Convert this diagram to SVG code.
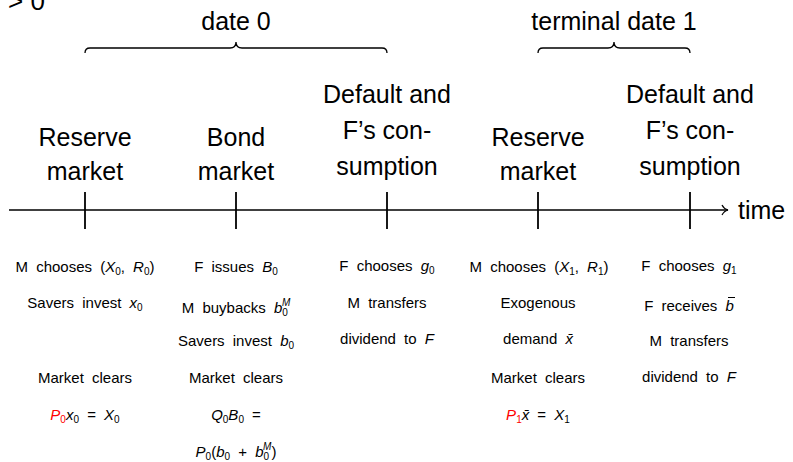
<svg xmlns="http://www.w3.org/2000/svg" width="793" height="462" viewBox="0 0 793 462">
<defs>
<style>
text{font-family:"Liberation Sans","DejaVu Sans",sans-serif;fill:#000}
.big{font-size:25px;text-anchor:middle}
.sm{font-size:15px;text-anchor:middle;word-spacing:4px}
.i{font-style:italic}
.red{fill:#ff0000}
.tick{stroke:#000;stroke-width:1.8}
.ax{stroke:#000;stroke-width:1.3;fill:none}
.brace{stroke:#000;stroke-width:1.3;fill:none}
</style>
<marker id="arr" markerWidth="10" markerHeight="12" refX="8" refY="6" orient="auto" markerUnits="userSpaceOnUse">
<path d="M2,1 Q4,5 8,6 Q4,7 2,11" fill="none" stroke="#000" stroke-width="1.2"/>
</marker>
</defs>
<rect width="793" height="462" fill="#fff"/>
<text x="8" y="10" font-size="26">&gt; 0</text>

<g id="periods">
<text class="big" x="236" y="30">date 0</text>
<path class="brace" d="M85,53 Q85,48 90,48 L230,48 Q236,48 236,42 Q236,48 242,48 L382,48 Q387,48 387,53"/>
<text class="big" x="614" y="30">terminal date 1</text>
<path class="brace" d="M538,53 Q538,48 543,48 L608,48 Q614,48 614,42 Q614,48 620,48 L685,48 Q690,48 690,53"/>
</g>

<g id="connectors">
<line class="ax" x1="9" y1="210" x2="728" y2="210" marker-end="url(#arr)"/>
</g>
<text x="738" y="219" font-size="25">time</text>

<g id="node1">
<line class="tick" x1="85" y1="192" x2="85" y2="229"/>
<text class="big" x="85" y="146">Reserve</text>
<text class="big" x="85" y="180">market</text>
<text class="sm" x="85" y="272">M chooses (<tspan class="i">X</tspan><tspan font-size="10" dy="3">0</tspan><tspan dy="-3">, </tspan><tspan class="i">R</tspan><tspan font-size="10" dy="3">0</tspan><tspan dy="-3">)</tspan></text>
<text class="sm" x="85" y="308">Savers invest <tspan class="i">x</tspan><tspan font-size="10" dy="3">0</tspan></text>
<text class="sm" x="85" y="383">Market clears</text>
<text class="sm" x="85" y="420"><tspan class="i red">P</tspan><tspan class="red" font-size="10" dy="3">0</tspan><tspan class="i" dy="-3">x</tspan><tspan font-size="10" dy="3">0</tspan><tspan dy="-3"> = </tspan><tspan class="i">X</tspan><tspan font-size="10" dy="3">0</tspan></text>
</g>

<g id="node2">
<line class="tick" x1="236" y1="192" x2="236" y2="229"/>
<text class="big" x="236" y="146">Bond</text>
<text class="big" x="236" y="180">market</text>
<text class="sm" x="236" y="272">F issues <tspan class="i">B</tspan><tspan font-size="10" dy="3">0</tspan></text>
<text class="sm" x="236" y="313">M buybacks <tspan class="i">b</tspan><tspan font-size="10" dy="3">0</tspan><tspan class="i" font-size="10" dx="-6" dy="-10">M</tspan></text>
<text class="sm" x="236" y="346">Savers invest <tspan class="i">b</tspan><tspan font-size="10" dy="3">0</tspan></text>
<text class="sm" x="236" y="383">Market clears</text>
<text class="sm" x="236" y="420"><tspan class="i">Q</tspan><tspan font-size="10" dy="3">0</tspan><tspan class="i" dy="-3">B</tspan><tspan font-size="10" dy="3">0</tspan><tspan dy="-3"> = </tspan></text>
<text class="sm" x="236" y="457"><tspan class="i">P</tspan><tspan font-size="10" dy="3">0</tspan><tspan dy="-3">(</tspan><tspan class="i">b</tspan><tspan font-size="10" dy="3">0</tspan><tspan dy="-3"> + </tspan><tspan class="i">b</tspan><tspan font-size="10" dy="3">0</tspan><tspan class="i" font-size="10" dx="-6" dy="-10">M</tspan><tspan dy="7">)</tspan></text>
</g>

<g id="node3">
<line class="tick" x1="387" y1="192" x2="387" y2="229"/>
<text class="big" x="387" y="103">Default and</text>
<text class="big" x="387" y="139">F’s con-</text>
<text class="big" x="387" y="175">sumption</text>
<text class="sm" x="387" y="271">F chooses <tspan class="i">g</tspan><tspan font-size="10" dy="3">0</tspan></text>
<text class="sm" x="387" y="308">M transfers</text>
<text class="sm" x="387" y="344">dividend to <tspan class="i">F</tspan></text>
</g>

<g id="node4">
<line class="tick" x1="538" y1="192" x2="538" y2="229"/>
<text class="big" x="538" y="146">Reserve</text>
<text class="big" x="538" y="180">market</text>
<text class="sm" x="539" y="272">M chooses (<tspan class="i">X</tspan><tspan font-size="10" dy="3">1</tspan><tspan dy="-3">, </tspan><tspan class="i">R</tspan><tspan font-size="10" dy="3">1</tspan><tspan dy="-3">)</tspan></text>
<text class="sm" x="538" y="308">Exogenous</text>
<text class="sm" x="538" y="344">demand <tspan class="i">x̄</tspan></text>
<text class="sm" x="538" y="383">Market clears</text>
<text class="sm" x="538" y="420"><tspan class="i red">P</tspan><tspan class="red" font-size="10" dy="3">1</tspan><tspan class="i" dy="-3">x̄</tspan><tspan> = </tspan><tspan class="i">X</tspan><tspan font-size="10" dy="3">1</tspan></text>
</g>

<g id="node5">
<line class="tick" x1="690" y1="192" x2="690" y2="229"/>
<text class="big" x="690" y="103">Default and</text>
<text class="big" x="690" y="139">F’s con-</text>
<text class="big" x="690" y="175">sumption</text>
<text class="sm" x="689" y="271">F chooses <tspan class="i">g</tspan><tspan font-size="10" dy="3">1</tspan></text>
<text class="sm" x="689" y="311">F receives <tspan class="i">b</tspan></text>
<line x1="728" y1="297.5" x2="735" y2="297.5" stroke="#000" stroke-width="1"/>
<text class="sm" x="689" y="346">M transfers</text>
<text class="sm" x="689" y="382">dividend to <tspan class="i">F</tspan></text>
</g>
</svg>
